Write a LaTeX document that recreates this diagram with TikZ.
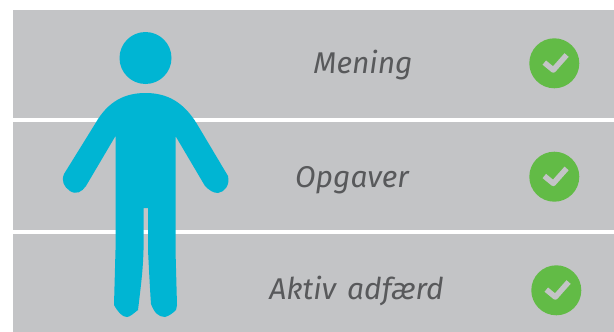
\documentclass[tikz,border=0pt]{standalone}
\usepackage{fontspec}
\setmainfont[WordSpace=1.4]{Fira Sans}
\definecolor{mBand}{HTML}{C3C4C6}
\definecolor{mPerson}{HTML}{00B5D3}
\definecolor{mCheck}{HTML}{62BB46}
\definecolor{mText}{HTML}{58595B}
\tikzset{
  label text/.style={anchor=base, text=mText, font=\itshape\fontsize{30}{30}\selectfont, inner sep=0pt},
  check dot/.style={circle, fill=mCheck, minimum size=50pt, inner sep=0pt},
  check mark/.style={draw=mBand, line width=5.5pt, line join=round}
}

\begin{document}
\begin{tikzpicture}[x=1pt, y=-1pt]
    \useasboundingbox (0,0) rectangle (614,332);
    % bands
    \foreach \top/\bot in {10/118,122/230,234/332}
      \fill[mBand] (13,\top) rectangle (614,\bot);
    % person
    \fill[mPerson] (145.5,58) circle (26);
    \fill[mPerson] (145.5,93) .. controls (125,93) and (108,101) .. (95,124)
      -- (64,174) .. controls (61,181) and (64,187) .. (70,191)
      .. controls (76,195) and (82,192) .. (86,186)
      -- (115.5,136) -- (115.5,250) -- (114,305)
      .. controls (118,312) and (122,317) .. (127,317)
      .. controls (130,317) and (134,313) .. (138,310)
      .. controls (141,285) and (143,270) .. (143.5,250)
      -- (143.5,208) -- (148,208) -- (148,250)
      .. controls (149,270) and (150,290) .. (151,304)
      .. controls (154,312) and (158,317) .. (165,317)
      .. controls (169,316) and (173,313) .. (176,310)
      -- (177,305) -- (175.5,250) -- (175.5,136)
      -- (205,186) .. controls (209,190) and (213,193) .. (218,193)
      .. controls (225,192) and (230,185) .. (228,176)
      -- (197,124) .. controls (183,101) and (166,93) .. (145.5,93) -- cycle;
    % rows
    \foreach \name/\lab/\tx/\ty/\cx/\cy in {mening/Mening/363/74/554.3/63.3,
        opgaver/Opgaver/352/187/554.3/176.7,
        adfaerd/Aktiv adfærd/356.5/299/556.3/290.3} {
      \node[label text] (\name) at (\tx,\ty) {\lab};
      \node[check dot] (\name-dot) at (\cx,\cy) {};
      \draw[check mark] ([shift={(-10,-0.7)}]\name-dot.center) -- ([shift={(-1,6.7)}]\name-dot.center) -- ([shift={(12.3,-8.3)}]\name-dot.center);
    }
  \end{tikzpicture}
\end{document}
